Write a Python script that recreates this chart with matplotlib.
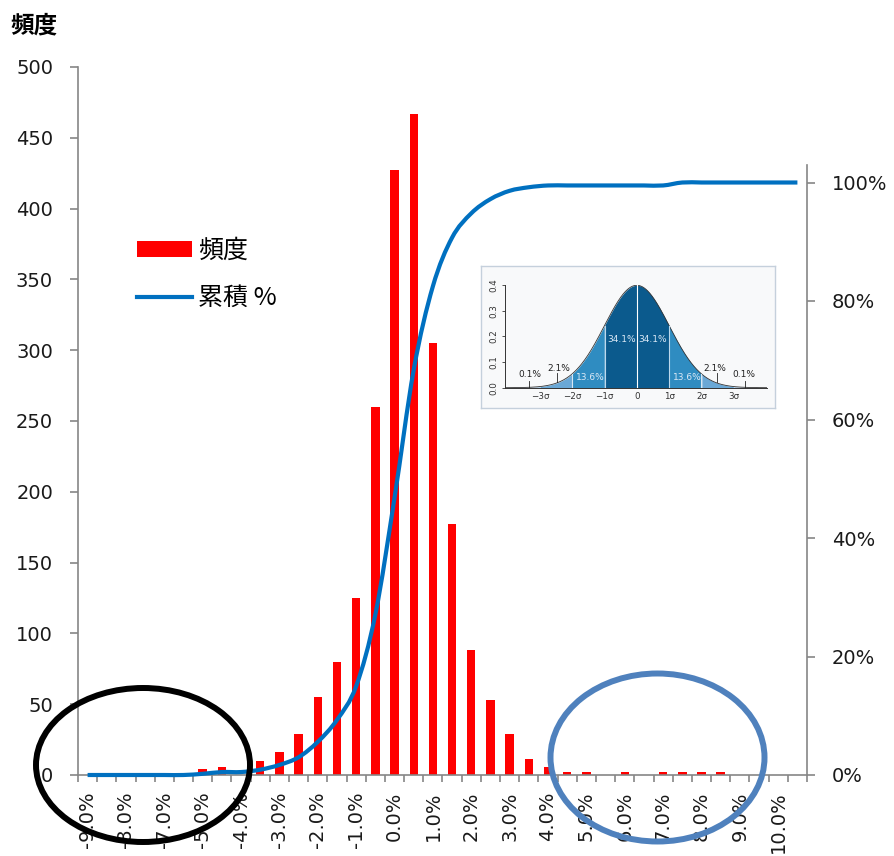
import numpy as np
import matplotlib
matplotlib.use("Agg")
import matplotlib.pyplot as plt
from matplotlib.patches import Patch, Ellipse, PathPatch
from matplotlib.path import Path
from matplotlib.lines import Line2D
from matplotlib.ticker import FixedLocator, FuncFormatter, NullFormatter

plt.rcParams['font.family'] = ['DejaVu Sans', 'Noto Sans CJK JP']
plt.rcParams['axes.unicode_minus'] = False

# Return bins (0.5% wide) and counts
bin_labels = ["-9.0%", "-8.0%", "-7.0%", "-5.0%", "-4.0%", "-3.0%", "-2.0%", "-1.0%",
              "0.0%", "1.0%", "2.0%", "3.0%", "4.0%", "5.0%", "6.0%", "7.0%",
              "8.0%", "9.0%", "10.0%"]
freq = [0, 0, 0, 0, 0, 0, 4, 6, 0, 10, 16, 29, 55, 80, 125, 260, 427, 467, 305,
        177, 88, 53, 29, 11, 6, 2, 2, 0, 2, 0, 2, 2, 2, 2, 0, 0, 0, 0]
cum_pct = [0.0, 0.0, 0.0, 0.0, 0.0, 0.0, 0.2, 0.5, 0.5, 0.9, 1.7, 3.0, 5.6, 9.3,
           15.0, 27.1, 46.8, 68.4, 82.5, 90.7, 94.8, 97.2, 98.6, 99.2, 99.5, 99.5,
           99.5, 99.5, 99.5, 99.5, 99.5, 100.0, 100.0, 100.0, 100.0, 100.0, 100.0, 100.0]

# Normal-distribution panel: band shares and sigma labels
sigma_ticks = ["\u22123\u03c3", "\u22122\u03c3", "\u22121\u03c3", "0", "1\u03c3", "2\u03c3", "3\u03c3"]
band_shares = ["34.1%", "13.6%", "2.1%", "0.1%"]

W, H = 895, 856
fig = plt.figure(figsize=(W / 100, H / 100), dpi=100)

GREY = '#868686'
RED = '#ff0000'
BLUE = '#0070c0'
CJK = ['Noto Sans CJK JP', 'DejaVu Sans']


def smooth_path(xv, yv):
    """Catmull-Rom style smoothed polyline as cubic Bezier segments."""
    p = np.column_stack([xv, yv]).astype(float)
    ext = np.vstack([p[0], p, p[-1]])
    verts = [p[0]]
    codes = [Path.MOVETO]
    for i in range(len(p) - 1):
        p0, p1, p2, p3 = ext[i], ext[i + 1], ext[i + 2], ext[i + 3]
        verts += [p1 + (p2 - p0) / 6, p2 - (p3 - p1) / 6, p2]
        codes += [Path.CURVE4] * 3
    return Path(np.array(verts), codes)


# main axes in pixel geometry
L, R, B, T = 78, 807, 775, 67
ax = fig.add_axes([L / W, (H - B) / H, (R - L) / W, (B - T) / H])
n = len(freq)
x = np.arange(n)
ax.bar(x, freq, width=0.44, color=RED, zorder=2)
ax.set_xlim(-0.5, n - 0.5)
ax.set_ylim(0, 500)
ax.set_yticks(np.arange(0, 501, 50))
for s in ['top', 'right']:
    ax.spines[s].set_visible(False)
for s in ['left', 'bottom']:
    ax.spines[s].set_color(GREY)
    ax.spines[s].set_linewidth(1.2)
ax.tick_params(axis='y', colors=GREY, labelcolor='#1a1a1a', labelsize=14,
               length=6, width=1.2, pad=12)
ax.xaxis.set_major_locator(FixedLocator(np.arange(-0.5, n, 1.0)))
ax.xaxis.set_major_formatter(NullFormatter())
ax.tick_params(axis='x', which='major', colors=GREY, length=5, width=1.2)
label_pos = np.arange(0, n, 2)[:len(bin_labels)]
ax.xaxis.set_minor_locator(FixedLocator(label_pos))
ax.xaxis.set_minor_formatter(FuncFormatter(lambda v, p: bin_labels[int(round(v)) // 2]))
ax.tick_params(axis='x', which='minor', length=0, labelsize=14, pad=12,
               labelcolor='#1a1a1a', labelrotation=90)
for t in ax.xaxis.get_minorticklabels():
    t.set_va('top')

# cumulative share on the secondary axis
ax2 = ax.twinx()
ax2.set_ylim(0, (B - T) / 592.5)
ax2.add_patch(PathPatch(smooth_path(x, np.array(cum_pct) / 100), fill=False,
                        edgecolor=BLUE, lw=3, zorder=3, clip_on=False,
                        capstyle='butt'))
ax2.set_yticks(np.arange(0, 1.01, 0.2))
ax2.yaxis.set_major_formatter(FuncFormatter(lambda v, p: f"{v * 100:.0f}%"))
for s in ['top', 'left', 'bottom']:
    ax2.spines[s].set_visible(False)
ax2.spines['right'].set_color(GREY)
ax2.spines['right'].set_linewidth(1.2)
ax2.spines['right'].set_bounds(0, (B - 165) / 592.5)
ax2.tick_params(axis='y', colors=GREY, labelcolor='#1a1a1a', labelsize=14,
                length=6, width=1.2, pad=12)

fig.text(10 / W, 1 - 25 / H, "頻度", fontsize=17, fontweight='bold',
         family=CJK, ha='left', va='center')

handles = [Patch(facecolor=RED, edgecolor='none'),
           Line2D([0], [0], color=BLUE, lw=3)]
fig.legend(handles, ["頻度", "累積 %"], loc='upper left',
           bbox_to_anchor=(137 / W, 1 - 238 / H), frameon=False,
           prop={'family': CJK, 'size': 18},
           handlelength=2.2, handleheight=0.6, handletextpad=0.25,
           labelspacing=0.85, borderpad=0, borderaxespad=0)

# ---- normal-distribution diagram panel ----
fx0, fx1, fy0, fy1 = 481, 775, 266, 408
frame = fig.add_axes([fx0 / W, (H - fy1) / H, (fx1 - fx0) / W, (fy1 - fy0) / H], zorder=5)
frame.set_facecolor('#f8f9fa')
frame.set_xticks([])
frame.set_yticks([])
for s in frame.spines.values():
    s.set_color('#c5d0dc')
    s.set_linewidth(1.0)

ix0, ix1, iy0, iy1 = 505, 767, 285, 387.7
ins = fig.add_axes([ix0 / W, (H - iy1) / H, (ix1 - ix0) / W, (iy1 - iy0) / H], zorder=6)
ins.patch.set_alpha(0)
xs = np.linspace(-4.08, 4.03, 600)
pdf = np.exp(-xs ** 2 / 2) / np.sqrt(2 * np.pi)
bands = [(0, 1, '#0b5a8d'), (1, 2, '#2f8cc1'), (2, 3, '#6aa8d6'), (3, 5, '#a9cbe7')]
for lo, hi, col in bands:
    m = (np.abs(xs) >= lo) & (np.abs(xs) <= hi)
    ins.fill_between(xs, 0, pdf, where=m & (xs >= 0), color=col, lw=0)
    ins.fill_between(xs, 0, pdf, where=m & (xs <= 0), color=col, lw=0)
ins.plot(xs, pdf, color='#333333', lw=0.6)
for b, col in [(0, 'white'), (1, '#bcd8ec'), (-1, '#bcd8ec'), (2, '#d6e7f4'), (-2, '#d6e7f4')]:
    ins.plot([b, b], [0, np.exp(-b * b / 2) / np.sqrt(2 * np.pi)], color=col, lw=0.8)
ins.set_xlim(-4.08, 4.03)
ins.set_ylim(0, 0.4)
ins.set_xticks([-3, -2, -1, 0, 1, 2, 3])
ins.set_xticklabels(sigma_ticks)
ins.set_yticks([0, 0.1, 0.2, 0.3, 0.4])
ins.set_yticklabels(["0.0", "0.1", "0.2", "0.3", "0.4"], rotation=90, va='center')
ins.tick_params(labelsize=6.3, length=0, pad=3, colors='#333333')
ins.tick_params(axis='y', length=2, width=0.6)
for s in ['top', 'right']:
    ins.spines[s].set_visible(False)
for s in ['left', 'bottom']:
    ins.spines[s].set_color('#333333')
    ins.spines[s].set_linewidth(0.7)
tk = dict(fontsize=6.5, ha='center', va='center')
ins.text(-0.48, 0.186, band_shares[0], color='#dbe9f6', **tk)
ins.text(0.5, 0.186, band_shares[0], color='#dbe9f6', **tk)
ins.text(-1.45, 0.039, band_shares[1], color='#dbe9f6', **tk)
ins.text(1.55, 0.039, band_shares[1], color='#dbe9f6', **tk)
for sgn in (-1, 1):
    ins.text(sgn * 2.4, 0.076, band_shares[2], color='#222222', **tk)
    ins.plot([sgn * 2.47, sgn * 2.47], [0.022, 0.058], color='#222222', lw=0.6)
    ins.text(sgn * 3.3, 0.051, band_shares[3], color='#222222', **tk)
    ins.plot([sgn * 3.35, sgn * 3.35], [0.0, 0.027], color='#222222', lw=0.6)

# ---- highlight rings around the tails ----
ov = fig.add_axes([0, 0, 1, 1], zorder=10)
ov.set_xlim(0, W)
ov.set_ylim(H, 0)
ov.axis('off')
ov.patch.set_alpha(0)
ov.add_patch(Ellipse((143, 765), 214, 154, fill=False, edgecolor='black', lw=4.3))
ov.add_patch(Ellipse((657.5, 757.5), 214, 168, fill=False, edgecolor='#4f81bd', lw=4.3))

fig.savefig("out.png", dpi=100)
